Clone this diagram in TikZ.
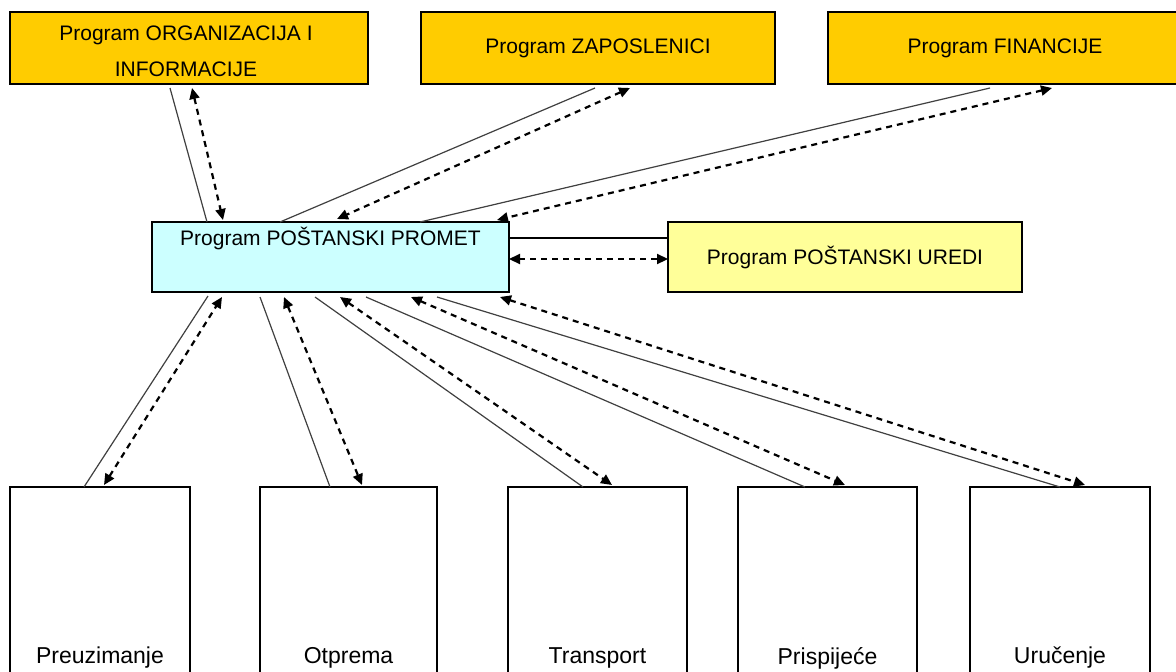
\documentclass[tikz,border=0pt]{standalone}
\usepackage{fontspec}
\setmainfont{Liberation Sans}
\usetikzlibrary{arrows.meta}
\definecolor{progGold}{HTML}{FFCC00}
\definecolor{progCyan}{HTML}{CCFFFF}
\definecolor{progYellow}{HTML}{FFFF99}
\begin{document}
\begin{tikzpicture}[x=1pt,y=-1pt,
  box/.style={draw=black, line width=2pt, rectangle, inner sep=0pt, outer sep=0pt, anchor=north west},
  topbox/.style={box, fill=progGold, minimum width=354pt, minimum height=72pt,
    font=\fontsize{21}{36}\selectfont, align=center},
  midbox/.style={box, minimum height=70pt},
  phasebox/.style={box, fill=white, minimum height=280pt},
  title/.style={font=\fontsize{21}{25}\selectfont},
  phaselabel/.style={font=\fontsize{23}{27}\selectfont},
  link/.style={line width=1.2pt, draw=black!75},
  flow/.style={line width=2.2pt, dash pattern=on 6pt off 5pt,
    {Triangle[length=11pt,width=10pt]}-{Triangle[length=11pt,width=10pt]}},
]
\clip (0,0) rectangle (1176,672);
\fill[white] (0,0) rectangle (1176,672);

% programme boxes along the top
\node[topbox, minimum width=358pt] (org) at (10,12) {};
\node[font=\fontsize{21}{36}\selectfont, align=center] (orgtext) at ([shift={(-3,3)}]org.center) {Program ORGANIZACIJA I\\INFORMACIJE};
\node[topbox] (zap) at (421,12) {Program ZAPOSLENICI};
\node[topbox] (fin) at (828,12) {Program FINANCIJE};

% central programme and its neighbour
\node[midbox, fill=progCyan, minimum width=357pt] (prom) at (152,222) {};
\node[title] (promtitle) at ([shift={(0,16)}]prom.north) {Program POŠTANSKI PROMET};
\node[midbox, fill=progYellow, minimum width=354pt, font=\fontsize{21}{25}\selectfont] (ured) at (668,222) {Program POŠTANSKI UREDI};

% process phases along the bottom
\node[phasebox, minimum width=180pt] (pA) at (10,487) {};
\node[phasebox, minimum width=177pt] (pB) at (260,487) {};
\node[phasebox, minimum width=179pt] (pC) at (508,487) {};
\node[phasebox, minimum width=179pt] (pD) at (738,487) {};
\node[phasebox, minimum width=180pt] (pE) at (970,487) {};
\node[phaselabel] (lA) at ([shift={(0,171)}]pA.north) {Preuzimanje};
\node[phaselabel] (lB) at ([shift={(0,171)}]pB.north) {Otprema};
\node[phaselabel] (lC) at ([shift={(0,171)}]pC.north) {Transport};
\node[phaselabel] (lD) at ([shift={(0,171)}]pD.north) {Prispijeće};
\node[phaselabel] (lE) at ([shift={(0,171)}]pE.north) {Uručenje};

% links between top programmes and the central one
\draw[link] ([shift={(160,4)}]org.south west) -- ([shift={(55,0)}]prom.north west);
\draw[flow] ([shift={(182,4)}]org.south west) -- ([shift={(71,-2)}]prom.north west);
\draw[link] ([shift={(174,4)}]zap.south west) -- ([shift={(128,0)}]prom.north west);
\draw[flow] ([shift={(209,4)}]zap.south west) -- ([shift={(185,-3)}]prom.north west);
\draw[link] ([shift={(162,4)}]fin.south west) -- ([shift={(268,0)}]prom.north west);
\draw[flow] ([shift={(224,4)}]fin.south west) -- ([shift={(345,-2)}]prom.north west);

% link to the post offices programme
\draw[line width=2.5pt] ([shift={(0,-19)}]prom.east) -- ([shift={(0,-19)}]ured.west);
\draw[flow] ([shift={(0,2)}]prom.east) -- ([shift={(0,2)}]ured.west);

% links from the central programme to the phases
\draw[link] ([shift={(74,0)}]pA.north west) -- ([shift={(56,4)}]prom.south west);
\draw[flow] ([shift={(94,-2)}]pA.north west) -- ([shift={(70,5)}]prom.south west);
\draw[link] ([shift={(70,0)}]pB.north west) -- ([shift={(108,5)}]prom.south west);
\draw[flow] ([shift={(132,5)}]prom.south west) -- ([shift={(102,-2)}]pB.north west);
\draw[link] ([shift={(75,0)}]pC.north west) -- ([shift={(163,5)}]prom.south west);
\draw[flow] ([shift={(188,5)}]prom.south west) -- ([shift={(104,-2)}]pC.north west);
\draw[link] ([shift={(67,0)}]pD.north west) -- ([shift={(214,5)}]prom.south west);
\draw[flow] ([shift={(259,5)}]prom.south west) -- ([shift={(107,-2)}]pD.north west);
\draw[link] ([shift={(90,0)}]pE.north west) -- ([shift={(285,5)}]prom.south west);
\draw[flow] ([shift={(348,5)}]prom.south west) -- ([shift={(115,-2)}]pE.north west);
\end{tikzpicture}
\end{document}
